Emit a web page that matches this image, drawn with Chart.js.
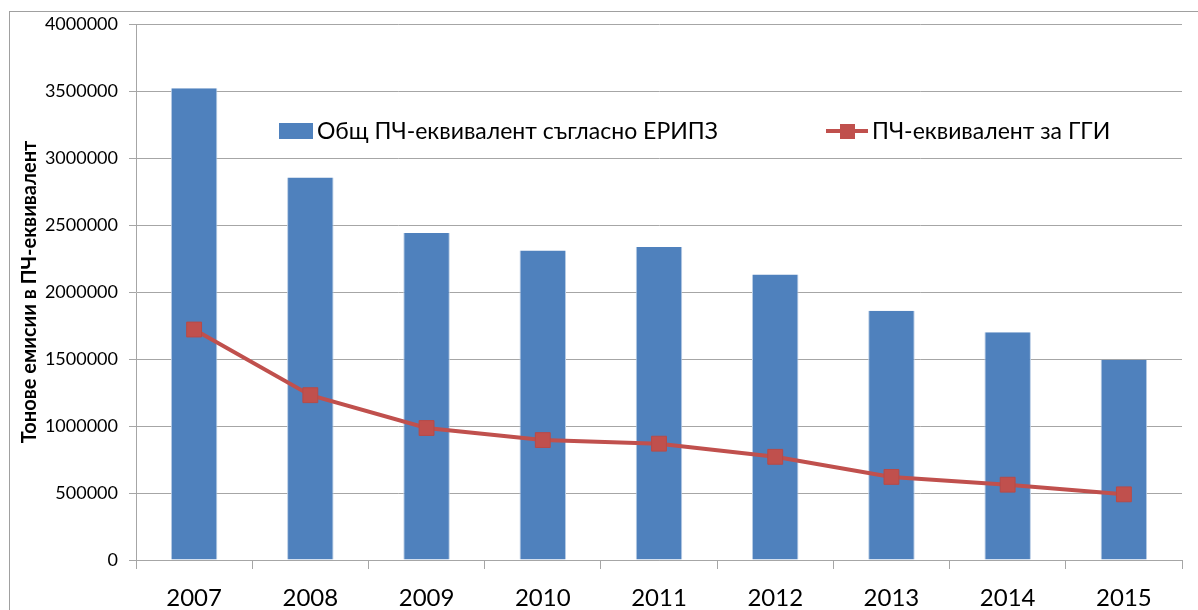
<!DOCTYPE html>
<html>
<head>
<meta charset="utf-8">
<script src="https://cdn.jsdelivr.net/npm/chart.js@4"></script>
<style>
  html, body { margin: 0; padding: 0; background: #fff; }
  #wrap { width: 1198px; height: 610px; }
</style>
</head>
<body>
<div id="wrap"><canvas id="chart" width="1198" height="610"></canvas></div>
<script>
// years on the x axis
const years = ['2007', '2008', '2009', '2010', '2011', '2012', '2013', '2014', '2015'];
// total PE per E-PRTR (bars)
const totalPE = [3520000, 2855000, 2440000, 2310000, 2335000, 2130000, 1860000, 1700000, 1495000];
// PE for agglomerations (line)
const agglomPE = [1720000, 1230000, 985000, 895000, 868000, 770000, 620000, 562000, 490000];
const yTicks = [0, 500000, 1000000, 1500000, 2000000, 2500000, 3000000, 3500000, 4000000];

const seriesNames = ['Общ ПЧ-еквивалент съгласно ЕРИПЗ', 'ПЧ-еквивалент за ГГИ'];
const fontFamily = 'Lato, "Open Sans", sans-serif';
const gridColor = '#a6a6a6';

// frame around the whole chart + legend drawn inside the plot
const decorPlugin = {
  id: 'decor',
  beforeDraw(chart) {
    const ctx = chart.ctx;
    ctx.save();
    ctx.strokeStyle = '#a0a0a0';
    ctx.lineWidth = 1;
    ctx.strokeRect(9.5, 11.5, chart.width + 10, chart.height + 10);
    ctx.restore();
  },
  afterDraw(chart) {
    const ctx = chart.ctx;
    const bars = chart.data.datasets.find(d => d.type === 'bar');
    const line = chart.data.datasets.find(d => d.type === 'line');
    ctx.save();
    ctx.font = '23px ' + fontFamily;
    ctx.textBaseline = 'middle';

    // bar swatch
    ctx.fillStyle = bars.backgroundColor;
    ctx.fillRect(279, 123, 34, 16);
    ctx.fillStyle = '#000';
    ctx.fillText(bars.label, 317, 132);

    // line swatch
    ctx.strokeStyle = line.borderColor;
    ctx.lineWidth = 4;
    ctx.beginPath();
    ctx.moveTo(826, 131);
    ctx.lineTo(868, 131);
    ctx.stroke();
    ctx.fillStyle = line.pointBackgroundColor;
    ctx.fillRect(840, 124, 15, 15);
    ctx.fillStyle = '#000';
    ctx.fillText(line.label, 872, 132);
    ctx.restore();
  }
};

new Chart(document.getElementById('chart'), {
  data: {
    labels: years,
    datasets: [
      {
        type: 'line',
        label: seriesNames[1],
        data: agglomPE,
        borderColor: '#c0504d',
        backgroundColor: '#c0504d',
        pointBackgroundColor: '#c0504d',
        pointBorderColor: '#b84a47',
        borderWidth: 4,
        pointStyle: 'rect',
        pointRadius: 10.5,
        pointBorderWidth: 1,
        tension: 0,
        order: 0
      },
      {
        type: 'bar',
        label: seriesNames[0],
        data: totalPE,
        backgroundColor: '#4f81bd',
        borderColor: '#b9cde5',
        borderWidth: { left: 1, right: 1, top: 0, bottom: 0 },
        barPercentage: 0.4,
        categoryPercentage: 1,
        order: 1
      }
    ]
  },
  options: {
    responsive: false,
    animation: false,
    layout: { padding: { left: 10, right: 16, top: 24, bottom: 0 } },
    plugins: {
      legend: { display: false },
      tooltip: { enabled: false }
    },
    scales: {
      x: {
        offset: true,
        grid: {
          offset: true,
          drawOnChartArea: false,
          color: gridColor,
          tickLength: 9
        },
        border: { color: gridColor },
        ticks: {
          color: '#000',
          font: { family: fontFamily, size: 24 },
          padding: 15
        },
        afterFit(scale) { scale.height = 50; }
      },
      y: {
        min: 0,
        max: 4000000,
        afterBuildTicks(scale) {
          scale.ticks = yTicks.map(v => ({ value: v }));
        },
        grid: {
          color: gridColor,
          tickLength: 7
        },
        border: { color: gridColor },
        ticks: {
          color: '#000',
          font: { family: fontFamily, size: 18 },
          padding: 11,
          callback: v => String(v)
        },
        title: {
          display: true,
          text: 'Тонове емисии в ПЧ-еквивалент',
          color: '#000',
          font: { family: fontFamily, size: 20, weight: 'bold' },
          padding: { top: 8, bottom: 0 }
        },
        afterFit(scale) { scale.width = 126; }
      }
    }
  },
  plugins: [decorPlugin]
});
</script>
</body>
</html>
